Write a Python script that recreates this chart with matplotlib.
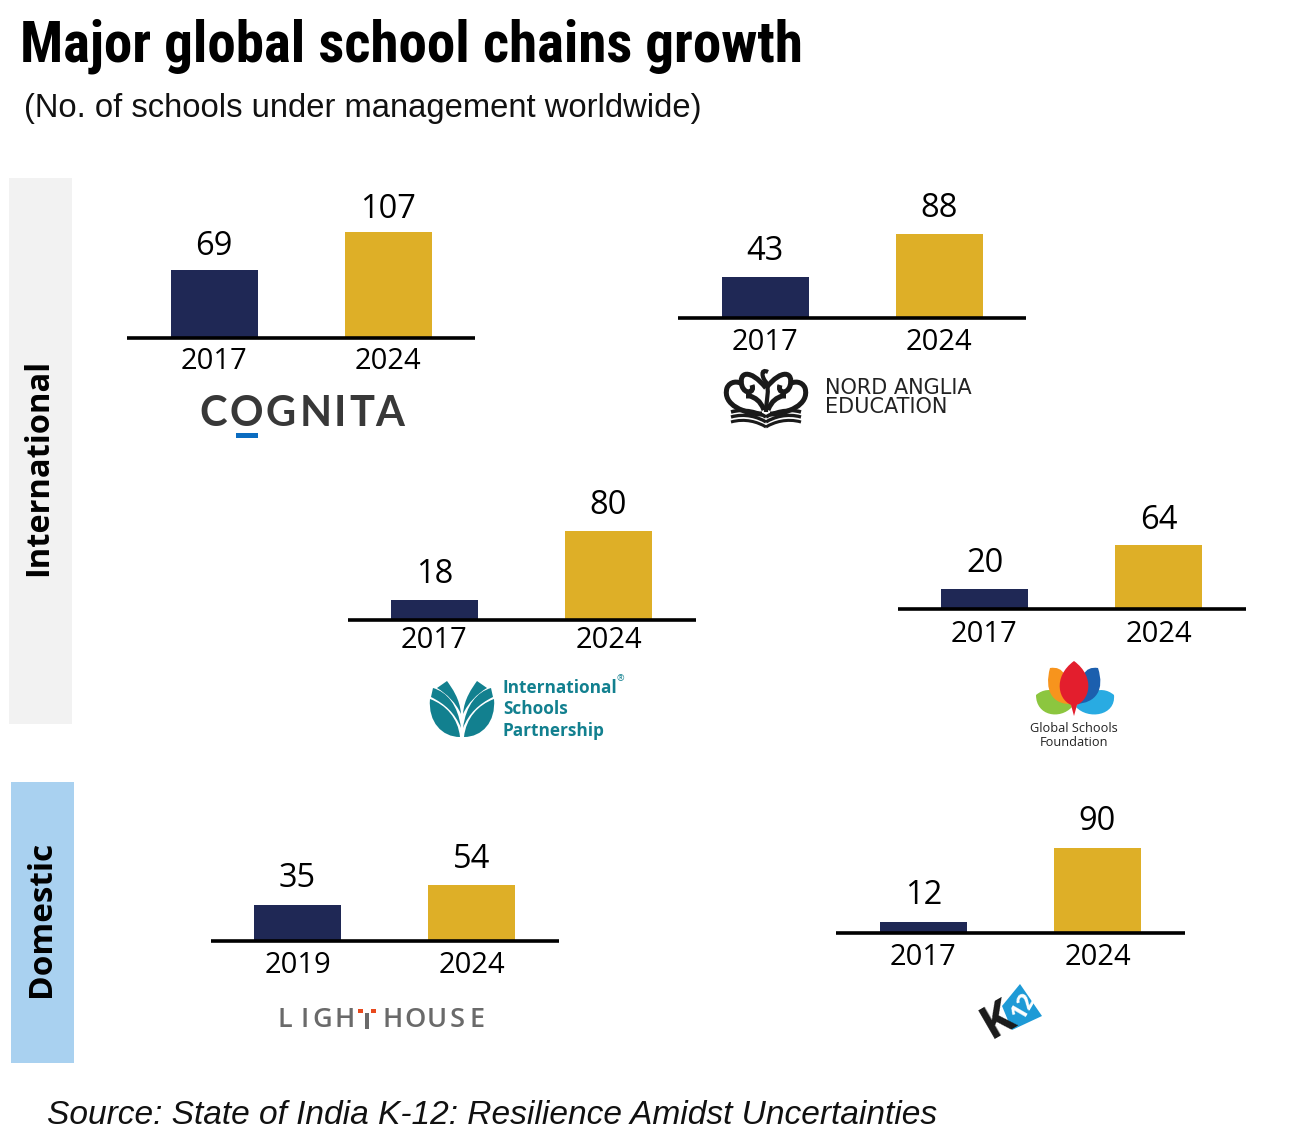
import matplotlib
matplotlib.use("Agg")
import matplotlib.pyplot as plt
from matplotlib.patches import PathPatch, Polygon, Rectangle
from matplotlib.path import Path

W, H = 1291, 1142

# Chain data
chains = ["Cognita", "Nord Anglia", "International Schools Partnership",
          "Global Schools Foundation", "Lighthouse", "K12"]
years = [["2017", "2024"], ["2017", "2024"], ["2017", "2024"],
         ["2017", "2024"], ["2019", "2024"], ["2017", "2024"]]
schools_start = [69, 43, 18, 20, 35, 12]
schools_2024 = [107, 88, 80, 64, 54, 90]

# left edge of baseline, baseline y, pixels per school, year label pad, value label pad
panel_pos = [(127, 337.5, 0.985, 7, 4.6), (678, 318.5, 0.96, 7, 6.5), (347.5, 620, 1.11, 4, 6.7),
             (897.5, 608.5, 0.985, 8, 6), (210.5, 941, 1.04, 7, 6.7), (836.5, 933, 0.945, 7, 7)]

NAVY = "#1f2855"
GOLD = "#deaf27"
SANS = "Open Sans"
HELV = "Liberation Sans"

fig = plt.figure(figsize=(W / 100, H / 100), dpi=100)
bg = fig.add_axes([0, 0, 1, 1])
bg.set_xlim(0, W)
bg.set_ylim(H, 0)
bg.axis("off")

# Header and source
bg.text(20, 46, "Major global school chains growth",
        family=["Roboto Condensed", "Archivo Narrow", "Liberation Sans"],
        weight="bold", fontsize=41, va="center", ha="left", color="black")
bg.text(24, 108, "(No. of schools under management worldwide)", family=HELV,
        fontsize=23.6, va="center", ha="left", color="#111111")
bg.text(47, 1116, "Source: State of India K-12: Resilience Amidst Uncertainties", family=HELV,
        style="italic", fontsize=24.15, va="center", ha="left", color="#111111")

# Side bands
bg.add_patch(Rectangle((9, 178), 63, 546, color="#f2f2f2", lw=0))
bg.add_patch(Rectangle((11, 782), 63, 281, color="#a9d1f0", lw=0))
bg.text(39, 467.5, "International", rotation=90, family=SANS, weight="bold",
        fontsize=23.5, ha="center", va="center", color="black")
bg.text(41.5, 919, "Domestic", rotation=90, family=SANS, weight="bold",
        fontsize=24, ha="center", va="center", color="black")

# The six small bar charts, each with its own scale
for i in range(len(chains)):
    left, base, scale, year_pad, val_pad = panel_pos[i]
    vals = [schools_start[i], schools_2024[i]]
    h = max(vals) * scale
    ax = fig.add_axes([left / W, 1 - base / H, 348 / W, h / H])
    ax.patch.set_alpha(0)
    bars = ax.bar([0, 1], vals, width=0.5, color=[NAVY, GOLD])
    ax.bar_label(bars, padding=val_pad, family=SANS, fontsize=23.5, color="black")
    ax.set_xlim(-0.5, 1.5)
    ax.set_ylim(0, max(vals))
    ax.set_xticks([0, 1], years[i], family=SANS, fontsize=21, color="black")
    ax.tick_params(axis="x", length=0, pad=year_pad)
    ax.set_yticks([])
    for s in ["left", "right", "top"]:
        ax.spines[s].set_visible(False)
    ax.spines["bottom"].set_linewidth(2.6)
    ax.spines["bottom"].set_capstyle("butt")


def curve(pts, **kw):
    # pts: start, then triples of bezier points
    codes = [Path.MOVETO] + [Path.CURVE4] * (len(pts) - 1)
    p = PathPatch(Path(pts, codes), **kw)
    bg.add_patch(p)
    return p


def mirror(pts, cx):
    return [(2 * cx - x, y) for x, y in pts]


def spaced(word, xs, y, **kw):
    for ch, x in zip(word, xs):
        bg.text(x, y, ch, ha="center", va="center", **kw)


# Cognita logo
spaced("COGNITA", [213, 246, 281, 316, 340, 362, 390], 414, family="Lato", weight="bold",
       fontsize=30, color="#383838")
bg.add_patch(Rectangle((236, 433), 22, 5, color="#0b6cc0", lw=0))

# Nord Anglia logo
cx = 766
shapes = [
    [(766, 388), (750, 368), (738, 372), (742, 386), (745, 395), (755, 393), (752, 385)],
    [(762, 414), (745, 414), (722, 405), (727, 388), (730, 381), (738, 381), (742, 384)],
    [(764, 410), (760, 400), (755, 398), (750, 396), (748, 396), (748, 396), (746, 396)],
]
for pts in shapes:
    for q in (pts, mirror(pts, cx)):
        curve(q, fc="none", ec="#1a1a1a", lw=3.6)
curve([(768, 372), (760, 368), (762, 378), (766, 382), (770, 390), (766, 400), (766, 412)],
      fc="none", ec="#1a1a1a", lw=3)
for off, lw in ((0, 2.6), (5, 2.4), (10, 2.2)):
    left_line = [(731, 412 + off), (745, 408 + off), (758, 412 + off), (766, 417 + off)]
    for q in (left_line, mirror(left_line, cx)):
        curve(q, fc="none", ec="#1a1a1a", lw=lw)
bg.text(825, 388, "NORD ANGLIA", family="DejaVu Sans", fontsize=15,
        color="#222222", va="center")
bg.text(825, 407, "EDUCATION", family="DejaVu Sans", fontsize=15,
        color="#222222", va="center")

# International Schools Partnership logo
TEAL = "#12808f"
cx = 462
leaves = [
    [(430, 699), (446, 705), (458, 718), (460, 737), (442, 737), (428, 722), (430, 699)],
    [(433, 688), (447, 692), (458, 705), (461, 728), (455, 713), (445, 704), (431, 697)],
    [(447, 681), (452, 688), (460, 699), (461, 714), (456, 703), (447, 694), (437, 688)],
]
for pts in leaves:
    for q in (pts, mirror(pts, cx)):
        curve(q, fc=TEAL, ec="none", lw=0)
for j, line in enumerate(["International", "Schools", "Partnership"]):
    bg.text(503, 688 + j * 21.5, line, family=SANS, weight="bold", fontsize=12.4,
            color=TEAL, va="center")
bg.text(620, 679, "®", family=SANS, fontsize=6.5, color=TEAL, va="center", ha="center")

# Global Schools Foundation logo
curve([(1036, 695), (1050, 683), (1068, 695), (1072, 707), (1060, 720), (1036, 716), (1036, 695)],
      fc="#8cc63f", ec="none", lw=0)
curve([(1114, 695), (1100, 683), (1082, 695), (1076, 707), (1088, 720), (1116, 716), (1114, 695)],
      fc="#29abe2", ec="none", lw=0)
curve([(1050, 668), (1064, 666), (1068, 676), (1072, 704), (1052, 705), (1044, 690), (1050, 668)],
      fc="#f7941d", ec="none", lw=0)
curve([(1098, 668), (1084, 666), (1080, 676), (1076, 704), (1096, 703), (1105, 690), (1098, 668)],
      fc="#1c5fae", ec="none", lw=0)
curve([(1074, 661), (1052, 677), (1058, 702), (1074, 706), (1090, 702), (1096, 677), (1074, 661)],
      fc="#e31e2d", ec="none", lw=0)
bg.add_patch(Polygon([(1071, 705), (1077, 705), (1074, 716)], closed=True, fc="#e31e2d", ec="none"))
bg.text(1074, 728, "Global Schools", family=SANS, fontsize=9.2, color="#222222",
        ha="center", va="center")
bg.text(1074, 742, "Foundation", family=SANS, fontsize=9.2, color="#222222",
        ha="center", va="center")

# Lighthouse logo
spaced("LIGH", [285, 305, 322, 345], 1020, family=SANS, fontsize=19.5, color="#6a6a6a",
       weight="semibold")
spaced("HOUSE", [393, 415, 437, 457, 477], 1020, family=SANS, fontsize=19.5, color="#6a6a6a",
       weight="semibold")
bg.add_patch(Rectangle((365, 1013), 4, 16, color="#6a6a6a", lw=0))
bg.add_patch(Rectangle((358, 1009), 5, 4, color="#e8491d", lw=0))
bg.add_patch(Rectangle((371, 1009), 5, 4, color="#e8491d", lw=0))

# K12 logo
bg.add_patch(Polygon([(1020, 984), (1042, 1016), (1012, 1030), (1002, 1006)],
                     closed=True, fc="#1e9ad6", ec="none"))
bg.text(1024, 1006, "12", family=SANS, weight="bold", fontsize=17, color="white",
        rotation=60, ha="center", va="center")
bg.text(998, 1020, "K", family=SANS, weight="bold", fontsize=34, color="#1a1a1a",
        rotation=30, ha="center", va="center")

fig.savefig("out.png", dpi=100)
